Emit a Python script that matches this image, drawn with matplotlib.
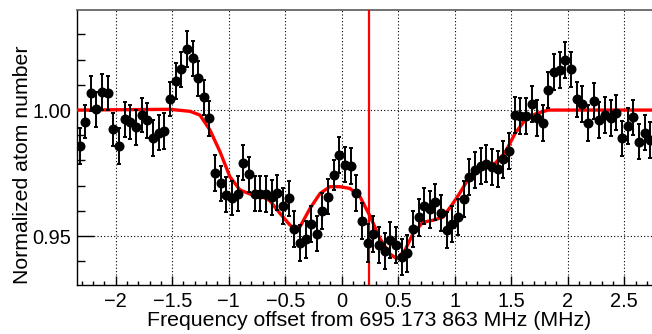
import matplotlib
matplotlib.use("Agg")
import matplotlib.pyplot as plt
from matplotlib.ticker import MultipleLocator, FixedLocator

plt.rcParams['font.family'] = ['Liberation Sans', 'DejaVu Sans']

freq = [-2.32, -2.27, -2.22, -2.17, -2.12, -2.07, -2.02, -1.97, -1.92, -1.87,
        -1.82, -1.77, -1.72, -1.67, -1.62, -1.57, -1.52, -1.47, -1.42, -1.37,
        -1.32, -1.27, -1.22, -1.17, -1.12, -1.07, -1.02, -0.97, -0.92, -0.87,
        -0.82, -0.77, -0.72, -0.67, -0.62, -0.57, -0.52, -0.47, -0.42, -0.37,
        -0.32, -0.27, -0.22, -0.17, -0.12, -0.07, -0.02, 0.03, 0.08, 0.13,
        0.18, 0.23, 0.28, 0.33, 0.38, 0.43, 0.48, 0.53, 0.58, 0.63,
        0.68, 0.73, 0.78, 0.83, 0.88, 0.93, 0.98, 1.03, 1.08, 1.13,
        1.18, 1.23, 1.28, 1.33, 1.38, 1.43, 1.48, 1.53, 1.58, 1.63,
        1.68, 1.73, 1.78, 1.83, 1.88, 1.93, 1.98, 2.03, 2.08, 2.13,
        2.18, 2.23, 2.28, 2.33, 2.38, 2.43, 2.48, 2.53, 2.58, 2.63,
        2.68, 2.73]

atoms = [0.9858, 0.9954, 1.0066, 1.0003, 1.0073, 1.0069, 0.9923, 0.9858, 0.9964, 0.9954,
         0.9931, 0.9980, 0.9960, 0.9888, 0.9910, 0.9917, 1.0044, 1.0115, 1.0161, 1.0241,
         1.0205, 1.0126, 1.0050, 0.9967, 0.9749, 0.9709, 0.9665, 0.9650, 0.9669, 0.9791,
         0.9745, 0.9669, 0.9669, 0.9667, 0.9654, 0.9672, 0.9619, 0.9650, 0.9527, 0.9473,
         0.9487, 0.9548, 0.9510, 0.9599, 0.9656, 0.9742, 0.9821, 0.9784, 0.9778, 0.9672,
         0.9561, 0.9473, 0.9508, 0.9464, 0.9440, 0.9484, 0.9464, 0.9418, 0.9431, 0.9527,
         0.9574, 0.9619, 0.9606, 0.9636, 0.9592, 0.9524, 0.9548, 0.9577, 0.9646, 0.9735,
         0.9762, 0.9778, 0.9788, 0.9773, 0.9765, 0.9804, 0.9839, 0.9980, 0.9976, 0.9976,
         1.0024, 0.9967, 0.9950, 1.0079, 1.0152, 1.0159, 1.0198, 1.0161, 1.0042, 1.0024,
         0.9950, 1.0037, 0.9960, 0.9980, 0.9967, 0.9990, 0.9888, 0.9937, 0.9971, 0.9874,
         0.9910, 0.9881]

errors = [0.0072, 0.0066, 0.0069, 0.0069, 0.0072, 0.0067, 0.0065, 0.0070, 0.0069, 0.0068,
          0.0069, 0.0068, 0.0069, 0.0071, 0.0069, 0.0071, 0.0069, 0.0070, 0.0070, 0.0071,
          0.0070, 0.0070, 0.0070, 0.0070, 0.0071, 0.0070, 0.0070, 0.0067, 0.0068, 0.0070,
          0.0070, 0.0070, 0.0070, 0.0070, 0.0070, 0.0070, 0.0071, 0.0070, 0.0072, 0.0073,
          0.0072, 0.0071, 0.0071, 0.0072, 0.0070, 0.0060, 0.0071, 0.0070, 0.0072, 0.0071,
          0.0072, 0.0076, 0.0072, 0.0072, 0.0072, 0.0072, 0.0072, 0.0072, 0.0072, 0.0072,
          0.0072, 0.0072, 0.0072, 0.0072, 0.0072, 0.0072, 0.0072, 0.0072, 0.0072, 0.0072,
          0.0072, 0.0072, 0.0072, 0.0072, 0.0072, 0.0072, 0.0072, 0.0071, 0.0071, 0.0071,
          0.0071, 0.0071, 0.0071, 0.0071, 0.0071, 0.0071, 0.0071, 0.0071, 0.0071, 0.0071,
          0.0071, 0.0071, 0.0071, 0.0071, 0.0071, 0.0071, 0.0070, 0.0070, 0.0070, 0.0070,
          0.0070, 0.0070]

fit_x = [-2.345, -1.52, -1.342, -1.254, -1.165, -1.077, -0.989, -0.900, -0.812, -0.723,
         -0.635, -0.546, -0.458, -0.413, -0.369, -0.280, -0.192, -0.104, -0.015, 0.073,
         0.162, 0.250, 0.339, 0.427, 0.489, 0.560, 0.631, 0.719, 0.808, 0.896,
         0.985, 1.047, 1.118, 1.224, 1.357, 1.445, 1.534, 1.622, 1.711, 1.826, 2.75]
fit_y = [1.0000, 1.0003, 0.9995, 0.9980, 0.9920, 0.9835, 0.9735, 0.9683, 0.9667, 0.9661,
         0.9640, 0.9590, 0.9544, 0.9530, 0.9537, 0.9610, 0.9669, 0.9696, 0.9696, 0.9689,
         0.9656, 0.9580, 0.9490, 0.9429, 0.9410, 0.9444, 0.9510, 0.9555, 0.9563, 0.9575,
         0.9630, 0.9672, 0.9725, 0.9778, 0.9788, 0.9831, 0.9907, 0.9960, 0.9984, 1.0000, 1.0000]

marker_line = 0.24

x_major = [-2, -1.5, -1, -0.5, 0, 0.5, 1, 1.5, 2, 2.5]
x_labels = ['\u22122', '\u22121.5', '\u22121', '\u22120.5', '0', '0.5', '1', '1.5', '2', '2.5']
y_major = [0.95, 1.00]
y_labels = ['0.95', '1.00']

W, H = 652, 334
fig = plt.figure(figsize=(W / 100, H / 100), dpi=100)
left_px, right_px, top_px, bot_px = 76.7, 652, 9.5, 285
ax = fig.add_axes([left_px / W, 1 - bot_px / H, (right_px - left_px) / W, (bot_px - top_px) / H])

ax.set_xlim(-2.345, 2.746)
ax.set_ylim(0.9306, 1.0399)

ax.xaxis.set_major_locator(FixedLocator(x_major))
ax.set_xticklabels(x_labels)
ax.xaxis.set_minor_locator(MultipleLocator(0.1))
ax.yaxis.set_major_locator(FixedLocator(y_major))
ax.set_yticklabels(y_labels)
ax.yaxis.set_minor_locator(MultipleLocator(0.01))

ax.grid(True, which='major', color='black', linestyle=(0, (1, 2)), linewidth=0.8)
ax.set_axisbelow(True)

ax.tick_params(axis='x', which='major', direction='in', length=6.5, width=1, labelsize=14.4, pad=5,
               top=False)
ax.tick_params(axis='x', which='minor', direction='in', length=3.2, width=1, top=False)
ax.tick_params(axis='y', which='major', direction='in', length=12, width=1, labelsize=14.4, pad=4,
               right=False)
ax.tick_params(axis='y', which='minor', direction='in', length=6, width=1, right=False)

for s in ['left', 'bottom']:
    ax.spines[s].set_color('black')
    ax.spines[s].set_linewidth(1.0)
ax.spines['top'].set_color('#666666')
ax.spines['top'].set_linewidth(1.3)
ax.spines['right'].set_visible(False)

ax.plot(fit_x, fit_y, color='red', linewidth=2.4, zorder=3, solid_capstyle='butt')
ax.axvline(marker_line, color='red', linewidth=1.6, zorder=4)
ax.errorbar(freq, atoms, yerr=errors, fmt='o', color='black', markersize=6.2,
            elinewidth=1.4, capsize=1.6, capthick=1.4, zorder=5)

ax.set_xlabel('Frequency offset from 695 173 863 MHz (MHz)', fontsize=15.3)
ax.xaxis.set_label_coords((369.5 - left_px) / (right_px - left_px), -0.094)
ax.set_ylabel('Normalized atom number', fontsize=15.3)
ax.yaxis.set_label_coords((32 - left_px) / (right_px - left_px), (bot_px - 165) / (bot_px - top_px))

fig.savefig('out.png', dpi=100)
